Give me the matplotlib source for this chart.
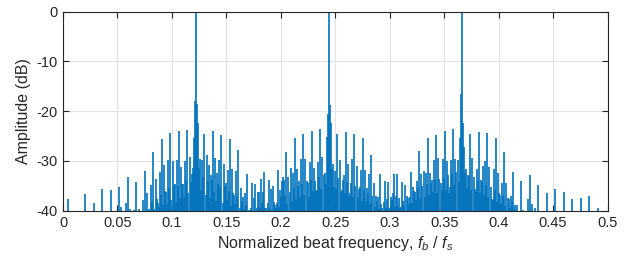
import numpy as np
import matplotlib
matplotlib.use("Agg")
import matplotlib.pyplot as plt

# Spectrum samples on a 1/1024 normalized-frequency grid (dB); -50 = below axis floor
bin_width = 1.0 / 1024

amp_a = [  # bins 0-127
 -50,-50,-50,-50,-50,-37.6,-50,-50,-50,-50,-50,-50,-50,-50,-50,-50,
 -50,-50,-50,-50,-50,-36.6,-50,-50,-50,-50,-50,-50,-50,-38.4,-50,-50,
 -50,-50,-50,-50,-50,-35.6,-50,-50,-50,-50,-50,-50,-50,-35.8,-50,-50,
 -50,-50,-50,-50,-50,-35.3,-50,-39.2,-50,-50,-50,-38.4,-50,-33.2,-50,-39.6,
 -50,-50,-50,-39.8,-50,-34.2,-50,-39.6,-50,-50,-50,-37.9,-50,-32.0,-50,-36.4,
 -50,-39.7,-50,-34.9,-38.2,-28.2,-39.6,-33.7,-37.6,-38.5,-39.3,-32.3,-36.8,-25.6,-38.9,-30.9,
 -36.0,-36.2,-38.6,-29.8,-35.4,-24.4,-37.9,-30.1,-34.8,-34.7,-38.2,-29.8,-35.0,-23.9,-37.4,-31.3,
 -34.6,-34.7,-37.2,-30.1,-33.9,-23.7,-36.4,-29.3,-34.2,-32.7,-31.5,-25.4,-17.9,0.0,-18.6,-22.3,
]
amp_b = [  # bins 128-255
 -31.5,-29.7,-35.8,-29.8,-33.2,-24.5,-36.9,-28.9,-34.0,-30.8,-37.5,-32.9,-33.8,-24.0,-36.2,-29.4,
 -38.0,-32.5,-34.6,-29.8,-35.2,-24.8,-38.4,-30.6,-35.0,-34.5,-37.8,-31.8,-36.0,-25.7,-39.0,-31.7,
 -36.5,-36.8,-38.6,-32.0,-37.2,-27.8,-39.5,-35.5,-38.0,-37.3,-39.7,-36.5,-38.8,-32.6,-50,-39.8,
 -50,-39.5,-34.5,-50,-37.5,-34.6,-39.5,-36.2,-36.3,-39.5,-33.7,-38.5,-36.3,-32.3,-39.5,-39.5,
 -50,-38.5,-33.8,-39.6,-35.7,-35.0,-38.2,-38.8,-39.5,-38.4,-31.8,-39.2,-35.8,-37.3,-34.0,-33.2,
 -33.8,-37.1,-28.3,-38.6,-33.3,-36.2,-31.5,-38.1,-32.5,-35.4,-25.5,-37.6,-31.7,-35.0,-34.0,-37.2,
 -29.6,-34.7,-24.5,-36.8,-29.7,-34.1,-34.4,-37.3,-30.2,-33.8,-23.9,-36.1,-31.5,-34.0,-36.0,-35.8,
 -30.2,-33.2,-23.6,-35.6,-29.2,-32.8,-32.5,-34.6,-25.2,-20.5,0.0,-18.7,-22.3,-31.6,-30.6,-35.3,
]
amp_c = [  # bins 256-383
 -32.1,-35.6,-24.5,-33.4,-29.9,-36.3,-35.8,-33.9,-32.9,-36.4,-24.1,-34.2,-30.6,-37.1,-36.5,-34.4,
 -29.7,-37.3,-24.6,-35.0,-31.1,-37.4,-35.6,-35.2,-31.8,-38.0,-25.5,-35.8,-31.9,-38.2,-35.5,-36.4,
 -32.6,-38.7,-28.8,-37.0,-34.5,-39.3,-37.0,-38.1,-37.3,-39.6,-32.6,-38.6,-39.5,-50,-38.2,-34.1,
 -39.5,-37.6,-34.3,-39.4,-37.2,-37.8,-36.4,-32.6,-39.3,-37.1,-32.6,-38.9,-37.4,-39.4,-39.3,-34.2,
 -38.0,-38.9,-34.9,-37.0,-37.5,-38.6,-37.2,-32.2,-38.4,-35.3,-36.1,-36.3,-37.9,-34.0,-35.4,-28.1,
 -37.6,-32.6,-35.0,-32.1,-37.2,-32.4,-34.6,-25.5,-36.8,-32.5,-34.4,-33.8,-36.3,-29.8,-33.9,-24.7,
 -36.4,-29.5,-33.7,-34.5,-35.8,-29.7,-33.5,-23.9,-35.9,-30.1,-32.9,-36.4,-35.2,-29.8,-32.6,-23.5,
 -34.8,-29.7,-32.2,-29.8,-34.3,-25.5,-16.5,0.0,-22.4,-27.2,-32.4,-31.7,-35.4,-32.8,-33.0,-24.6,
]
amp_d = [  # bins 384-511
 -35.8,-29.5,-33.3,-35.6,-36.2,-31.7,-34.0,-24.1,-36.4,-33.9,-34.3,-31.0,-36.9,-30.0,-34.8,-24.3,
 -37.3,-31.2,-35.2,-37.6,-37.8,-31.6,-35.9,-25.4,-38.3,-32.5,-36.4,-36.8,-38.7,-34.5,-37.0,-28.3,
 -39.1,-34.4,-37.4,-37.6,-39.4,-37.0,-38.2,-32.2,-39.7,-38.8,-50,-38.8,-50,-50,-50,-34.1,
 -50,-39.8,-50,-50,-50,-37.7,-50,-32.8,-50,-38.6,-50,-50,-39.5,-50,-50,-34.9,
 -50,-50,-50,-50,-50,-50,-50,-36.5,-50,-50,-50,-50,-50,-50,-50,-35.7,
 -50,-50,-50,-50,-50,-50,-50,-36.3,-50,-50,-50,-50,-50,-50,-50,-37.7,
 -50,-50,-50,-50,-50,-50,-50,-37.5,-50,-50,-50,-50,-50,-50,-50,-37.0,
 -50,-50,-50,-50,-50,-50,-50,-39.5,-50,-50,-50,-50,-50,-50,-50,-50,
]

x_ticks = [0, 0.05, 0.1, 0.15, 0.2, 0.25, 0.3, 0.35, 0.4, 0.45, 0.5]
x_ticklabels = ["0", "0.05", "0.1", "0.15", "0.2", "0.25", "0.3", "0.35", "0.4", "0.45", "0.5"]
y_ticks = [-40, -30, -20, -10, 0]
y_ticklabels = ["-40", "-30", "-20", "-10", "0"]

plt.rcParams['font.family'] = ['Liberation Sans', 'DejaVu Sans']
plt.rcParams['mathtext.fontset'] = 'custom'
plt.rcParams['mathtext.it'] = 'Liberation Sans:italic'
plt.rcParams['mathtext.rm'] = 'Liberation Sans'
plt.rcParams['axes.unicode_minus'] = False

amp = np.array(amp_a + amp_b + amp_c + amp_d, dtype=float)
freq = np.arange(len(amp)) * bin_width
mask = amp > -40

fig = plt.figure(figsize=(6.34, 2.70), dpi=100)
ax = fig.add_axes([63/634, 1 - 210.7/270, (607.5-63)/634, (210.7-11.5)/270])

ax.vlines(freq[mask], -40, amp[mask], color='#0072BD', linewidth=1.2)

ax.set_xlim(0, 0.5)
ax.set_ylim(-40, 0)
ax.set_xticks(x_ticks)
ax.set_xticklabels(x_ticklabels)
ax.set_yticks(y_ticks)
ax.set_yticklabels(y_ticklabels)
ax.grid(True, color='#e3e3e3', linewidth=0.8)
ax.set_axisbelow(True)
ax.tick_params(direction='in', top=True, right=True, length=4, width=0.8,
               labelsize=10.5, colors='#262626', pad=4)
for s in ax.spines.values():
    s.set_color('#262626')
    s.set_linewidth(0.8)

ax.set_xlabel('Normalized beat frequency, $f_b$ / $f_s$', fontsize=11.5, color='#262626', labelpad=3)
ax.set_ylabel('Amplitude (dB)', fontsize=11.5, color='#262626', labelpad=4)

fig.savefig('out.png', dpi=100)
